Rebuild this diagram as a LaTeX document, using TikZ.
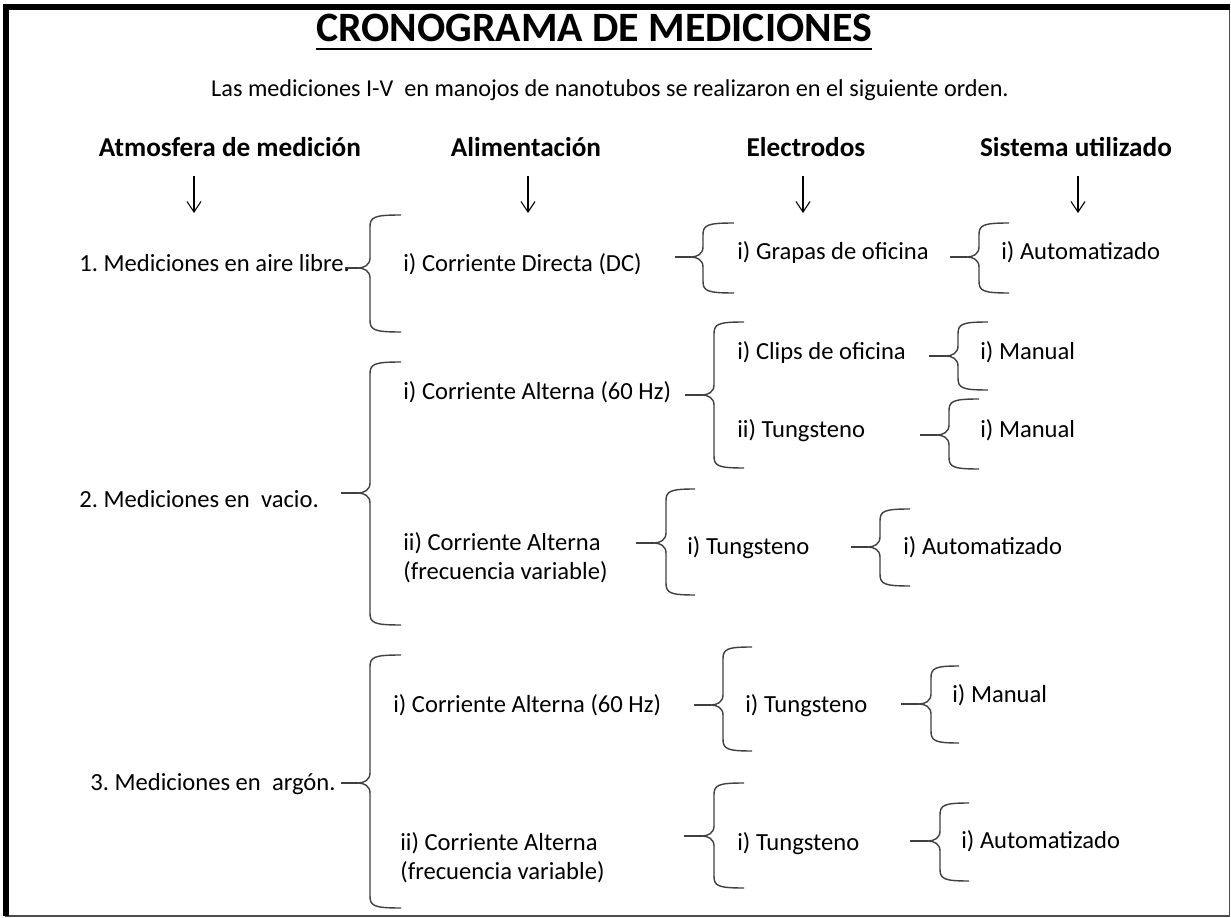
\documentclass[tikz,border=0pt]{standalone}
\usepackage{fontspec}
\setmainfont{Carlito}
\usetikzlibrary{arrows.meta}
\frenchspacing
\tikzstyle{title} = [
  font=\fontsize{23.8}{28}\selectfont\bfseries,
  inner sep=0,
  anchor=base
]
\tikzstyle{intro} = [
  font=\fontsize{13.8}{16}\selectfont,
  inner sep=0,
  anchor=base
]
\tikzstyle{header} = [
  font=\fontsize{15.5}{18}\selectfont\bfseries,
  inner sep=0,
  anchor=base
]
\tikzstyle{item} = [
  font=\fontsize{14}{16.5}\selectfont,
  inner sep=0,
  anchor=base west
]
\tikzstyle{item2} = [item, align=left, anchor=west]
\tikzstyle{arrow} = [-{Straight Barb[length=6pt,width=8pt]}, line width=0.6pt]
\tikzstyle{bracket} = [line width=0.8pt, draw=black!75]
\tikzstyle{underline} = [line width=1.4pt]
% curly bracket: stem x, spine x, top y, middle y, bottom y, end x
\newcommand{\curly}[6]{%
  \draw [bracket] (#1,#4) -- ({#2-12},#4);
  \draw [bracket] (#6,#3) .. controls ({#2+4},#3) and (#2,{#3+2}) .. (#2,{#3+12})
    -- (#2,{#4-10}) .. controls (#2,{#4-3}) and ({#2-6},#4) .. ({#2-12},#4)
    .. controls ({#2-6},#4) and (#2,{#4+3}) .. (#2,{#4+10})
    -- (#2,{#5-12}) .. controls (#2,{#5-2}) and ({#2+4},#5) .. (#6,#5);
}

\begin{document}
\begin{tikzpicture}[x=0.02cm, y=-0.02cm]
    \useasboundingbox (0,0) rectangle (1231,918);
    \draw [line width=1pt, draw=black!70] (6,7) rectangle (1229.5,916);
    \draw [line width=3.4pt] (6,916) -- (6,7) -- (1229.5,7);

    \node (title) [title] at (594,42) {CRONOGRAMA DE MEDICIONES};
    \draw [underline] ([yshift=-4pt]title.base west) -- ([yshift=-4pt]title.base east);
    \node (intro) [intro] at (610,97) {Las mediciones I-V\ \ en manojos de nanotubos se realizaron en el siguiente orden.};

    \node (hdr-atm) [header] at (230,157) {Atmosfera de medición};
    \node (hdr-ali) [header] at (526,157) {Alimentación};
    \node (hdr-ele) [header] at (806,157) {Electrodos};
    \node (hdr-sis) [header] at (1076,157) {Sistema utilizado};

    \coordinate (atm-top) at (194,176);
    \coordinate (atm-bot) at (194,213);
    \coordinate (ali-top) at (528,176);
    \coordinate (ali-bot) at (528,213);
    \coordinate (ele-top) at (803,176);
    \coordinate (ele-bot) at (803,213);
    \coordinate (sis-top) at (1078,176);
    \coordinate (sis-bot) at (1078,213);

    \node (aire) [item] at (79,272) {1. Mediciones en aire libre.};
    \node (vacio) [item] at (79,508) {2. Mediciones en\ \ vacio.};
    \node (argon) [item] at (90,790) {3. Mediciones en\ \ argón.};

    \node (dc) [item] at (403,272) {i) Corriente Directa (DC)};
    \node (ac-vacio) [item] at (403,400) {i) Corriente Alterna (60 Hz)};
    \node (fv-vacio) [item2] at (403,558) {ii) Corriente Alterna\\(frecuencia variable)};
    \node (ac-argon) [item] at (393,712) {i) Corriente Alterna (60 Hz)};
    \node (fv-argon) [item2] at (400,858) {ii) Corriente Alterna\\(frecuencia variable)};

    \node (grapas) [item] at (737,260) {i) Grapas de oficina};
    \node (clips) [item] at (737,360) {i) Clips de oficina};
    \node (tung-vacio-ac) [item] at (737,438) {ii) Tungsteno};
    \node (tung-vacio-fv) [item] at (687,555) {i) Tungsteno};
    \node (tung-argon-ac) [item] at (745,712) {i) Tungsteno};
    \node (tung-argon-fv) [item] at (737,850) {i) Tungsteno};

    \node (auto-aire) [item] at (1001,260) {i) Automatizado};
    \node (manual-clips) [item] at (980,360) {i) Manual};
    \node (manual-tung) [item] at (980,438) {i) Manual};
    \node (auto-vacio) [item] at (903,555) {i) Automatizado};
    \node (manual-argon) [item] at (952,703) {i) Manual};
    \node (auto-argon) [item] at (961,848) {i) Automatizado};

    \draw [arrow] (atm-top) -- (atm-bot);
    \draw [arrow] (ali-top) -- (ali-bot);
    \draw [arrow] (ele-top) -- (ele-bot);
    \draw [arrow] (sis-top) -- (sis-bot);

    \curly{345}{370}{215}{268}{332}{401}
    \curly{341}{370}{362}{493}{625}{401}
    \curly{341}{370}{655}{783}{908}{401}
    \curly{675}{703}{223}{257}{293}{734}
    \curly{685}{714}{322}{395}{468}{744}
    \curly{636}{666}{489}{543}{595}{695}
    \curly{694}{723}{647}{705}{751}{752}
    \curly{684}{714}{783}{836}{888}{744}
    \curly{950}{979}{223}{257}{293}{1009}
    \curly{929}{958}{322}{356}{390}{988}
    \curly{920}{949}{399}{435}{469}{979}
    \curly{851}{880}{509}{547}{586}{910}
    \curly{901}{931}{666}{704}{743}{959}
    \curly{910}{940}{803}{841}{881}{969}
  \end{tikzpicture}
\end{document}
